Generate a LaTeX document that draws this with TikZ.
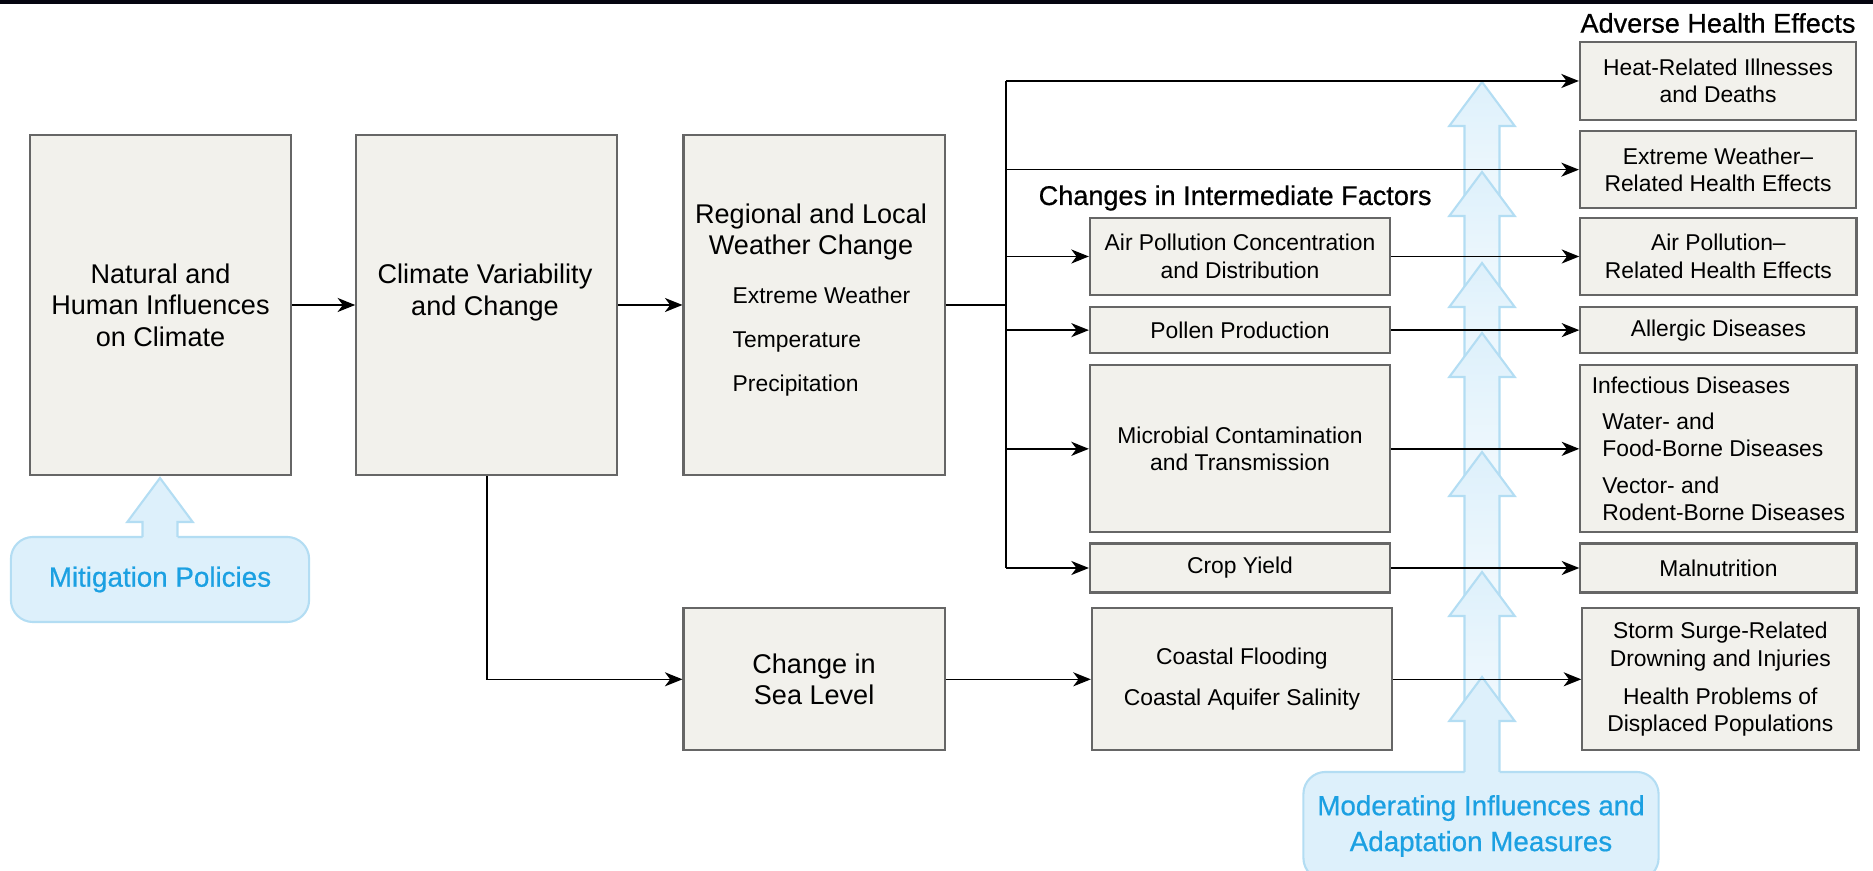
\documentclass[tikz,border=0pt]{standalone}
\usepackage{fontspec}
\setmainfont{Liberation Sans}
\newfontfamily\heavyfamily[FakeBold=0.6]{Liberation Sans}
\usepackage{tikz}
\usetikzlibrary{positioning}
\usetikzlibrary{calc,arrows.meta}
\definecolor{boxfill}{HTML}{F2F1EC}
\definecolor{boxline}{HTML}{666666}
\definecolor{flowfill}{HTML}{DDF0FB}
\definecolor{flowline}{HTML}{B3DDF3}
\definecolor{flowtext}{HTML}{1BA0E2}
\definecolor{topbar}{HTML}{05050F}
\newcommand{\boxfont}[0]{\fontsize{7.7}{9}\selectfont}
\newcommand{\headfont}[0]{\heavyfamily\fontsize{7.7}{9}\selectfont}
\newcommand{\itemfont}[0]{\fontsize{6.5}{7.8}\selectfont}
\newcommand{\flowfont}[0]{\heavyfamily\fontsize{7.9}{10.2}\selectfont}
\newcommand{\flowarrow}[4][flowfill]{%
  \shade[top color=flowfill, bottom color=#1] (#2,#3) -- (#2+32.7,#3+44) -- (#2+17.5,#3+44) -- (#2+17.5,#4+3) -- (#2-17.5,#4+3) -- (#2-17.5,#3+44) -- (#2-32.7,#3+44) -- cycle;
  \draw[flowline, line width=0.6pt] (#2-17.5,#4) -- (#2-17.5,#3+44) -- (#2-32.7,#3+44) -- (#2,#3) -- (#2+32.7,#3+44) -- (#2+17.5,#3+44) -- (#2+17.5,#4);
}
\tikzset{
  box/.style={draw=boxline, fill=boxfill, line width=0.6pt, inner sep=2pt, align=center, font=\boxfont},
  bigbox/.style={box, minimum width=2.61cm, minimum height=3.4cm},
  midbox/.style={box, font=\itemfont, minimum width=3cm},
  effbox/.style={box, font=\itemfont, minimum width=2.76cm},
  bubble/.style={draw=flowline, fill=flowfill, line width=0.6pt, rounded corners=0.22cm, text=flowtext, font=\flowfont, align=center},
  heading/.style={font=\headfont, inner sep=0pt},
  txt/.style={align=center, inner sep=0pt},
  link/.style={line width=0.45pt, -{Stealth[length=5pt,width=4pt,inset=1.5pt]}},
  busline/.style={line width=0.45pt}
}

\begin{document}
\begin{tikzpicture}[x=0.01cm, y=-0.01cm, node distance=0.10cm]
      \useasboundingbox (0,0) rectangle (1873,871);
      \clip (0,0) rectangle (1873,871);
      \fill[topbar] (0,0) rectangle (1873,4);

      \node(mitig) [bubble, minimum width=2.98cm, minimum height=0.85cm] at (160,579.5) {Mitigation Policies};
      \node(moder) [bubble, minimum width=3.55cm, minimum height=1.08cm] at (1481,826) {Moderating Influences and\\Adaptation Measures};

      \flowarrow{160}{478}{537}
      \flowarrow[flowfill!35!white]{1482}{82}{212}
      \flowarrow[flowfill!35!white]{1482}{172}{303}
      \flowarrow[flowfill!35!white]{1482}{263}{373}
      \flowarrow[flowfill!35!white]{1482}{333}{492}
      \flowarrow[flowfill!35!white]{1482}{452}{612}
      \flowarrow[flowfill!35!white]{1482}{572}{717}
      \flowarrow{1482}{677}{772}

      \node(nat) [bigbox] at (160.5,305) {Natural and\\Human Influences\\on Climate};
      \node(cv) [bigbox, right=0.63cm of nat] {};
      \node(cvtxt) [txt, font=\boxfont] at (485,292.5) {Climate Variability\\and Change};
      \node(wx) [bigbox, right=0.64cm of cv] {};
      \node(wxtitle) [txt, font=\boxfont] at (811,232) {Regional and Local\\Weather Change};
      \node(wxlist) [txt, font=\itemfont, align=left, anchor=west] at (732,342) {Extreme Weather\\[4.7pt]Temperature\\[4.7pt]Precipitation};
      \node(sea) [box, minimum width=2.61cm, minimum height=1.42cm, below=1.31cm of wx] {Change in\\Sea Level};

      \node(factors) [heading, anchor=west] at (1038,198) {Changes in Intermediate Factors};
      \node(airpol) [midbox, minimum height=0.77cm] at (1240,256.5) {Air Pollution Concentration\\and Distribution};
      \node(pollen) [midbox, minimum height=0.46cm, below=of airpol] {Pollen Production};
      \node(microbe) [midbox, minimum height=1.67cm, below=of pollen] {Microbial Contamination\\and Transmission};
      \node(crop) [midbox, minimum height=0.49cm, below=0.09cm of microbe] {Crop Yield};
      \node(coast) [midbox, minimum height=1.42cm, right=1.45cm of sea] {Coastal Flooding\\[4pt]Coastal Aquifer Salinity};

      \node(adverse) [heading] at (1718,23) {Adverse Health Effects};
      \node(heat) [effbox, minimum height=0.78cm] at (1718,81) {Heat-Related Illnesses\\and Deaths};
      \node(xweather) [effbox, minimum height=0.77cm, below=0.09cm of heat] {Extreme Weather--\\Related Health Effects};
      \node(airfx) [effbox, minimum height=0.77cm, right=1.88cm of airpol] {Air Pollution--\\Related Health Effects};
      \node(allergy) [effbox, minimum height=0.46cm, right=1.88cm of pollen] {Allergic Diseases};
      \node(infect) [effbox, minimum height=1.67cm, align=left, right=1.88cm of microbe] {Infectious Diseases\\[2.5pt]
        \hspace{3pt}Water- and\\\hspace{3pt}Food-Borne Diseases\\[2.5pt]\hspace{3pt}Vector- and\\\hspace{3pt}Rodent-Borne Diseases};
      \node(malnut) [effbox, minimum height=0.49cm, right=1.88cm of crop] {Malnutrition};
      \node(storm) [effbox, minimum height=1.42cm, right=1.88cm of coast] {Storm Surge-Related\\Drowning and Injuries\\[3pt]Health Problems of\\Displaced Populations};

      \coordinate(busx) at (1006,0);

      \draw[link](nat) -- (cv);
      \draw[link](cv) -- (wx);
      \draw[busline](wx) -- (wx -| busx);
      \draw[busline](busx |- heat) -- (busx |- crop);
      \draw[link](busx |- heat) -- (heat);
      \draw[link](busx |- xweather) -- (xweather);
      \draw[link](busx |- airpol) -- (airpol);
      \draw[link](busx |- pollen) -- (pollen);
      \draw[link](busx |- microbe) -- (microbe);
      \draw[link](busx |- crop) -- (crop);
      \draw[link](cv.south) |- (sea);
      \draw[link](sea) -- (coast);
      \draw[link](airpol) -- (airfx);
      \draw[link](pollen) -- (allergy);
      \draw[link](microbe) -- (infect);
      \draw[link](crop) -- (malnut);
      \draw[link](coast) -- (storm);
    \end{tikzpicture}
\end{document}
